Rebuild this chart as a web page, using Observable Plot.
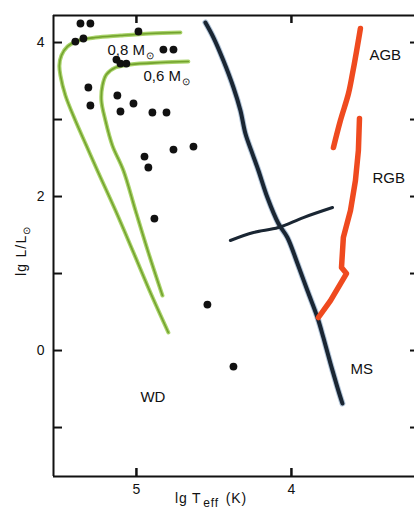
<!DOCTYPE html>
<html><head><meta charset="utf-8">
<script src="https://cdn.jsdelivr.net/npm/d3@7"></script>
<script src="https://cdn.jsdelivr.net/npm/@observablehq/plot@0.6"></script>
<style>html,body{margin:0;padding:0;background:#fff}#chart{width:414px;height:512px;overflow:hidden}</style>
</head><body><div id="chart"></div>
<script>
// [lg Teff, lg L/Lsun]
const track08 = [[4.716,4.130],[4.910,4.117],[5.103,4.091],[5.265,4.065],[5.374,4.026],[5.445,3.948],[5.484,3.831],[5.497,3.701],[5.490,3.571],[5.458,3.312],[5.394,2.987],[5.323,2.662],[5.252,2.338],[5.135,1.818],[5.019,1.273],[4.910,0.753],[4.794,0.234]];
const track06 = [[4.665,3.753],[4.845,3.740],[5.039,3.714],[5.135,3.675],[5.194,3.584],[5.219,3.442],[5.226,3.247],[5.200,2.987],[5.155,2.662],[5.084,2.338],[5.006,1.818],[4.923,1.273],[4.832,0.714]];
const mainSeq = [[4.555,4.260],[4.503,4.065],[4.439,3.766],[4.374,3.416],[4.329,3.117],[4.297,2.818],[4.252,2.558],[4.213,2.338],[4.155,1.987],[4.084,1.649],[4.026,1.468],[3.961,1.130],[3.897,0.779],[3.832,0.429],[3.794,0.169],[3.748,-0.169],[3.703,-0.481],[3.671,-0.688]];
const crossLine = [[4.394,1.429],[4.245,1.532],[4.084,1.597],[3.923,1.727],[3.735,1.857]];
const rgb = [[3.826,0.429],[3.748,0.649],[3.645,1.000],[3.677,1.078],[3.665,1.468],[3.619,1.818],[3.587,2.208],[3.568,2.597],[3.561,3.013]];
const agb = [[3.729,2.636],[3.684,2.987],[3.632,3.338],[3.606,3.597],[3.587,3.805],[3.568,4.026],[3.555,4.182]];
const stars = [[5.361,4.247],[5.297,4.247],[5.394,4.013],[5.342,4.052],[4.987,4.143],[4.826,3.909],[4.761,3.909],[5.129,3.779],[5.103,3.727],[5.065,3.727],[5.310,3.416],[5.123,3.312],[5.019,3.208],[5.297,3.182],[5.103,3.104],[4.897,3.091],[4.806,3.091],[4.761,2.610],[4.632,2.649],[4.948,2.519],[4.923,2.377],[4.884,1.714],[4.542,0.597],[4.374,-0.208]];
const regionLabels = [{t:"AGB",x:3.497,y:3.831},{t:"RGB",x:3.477,y:2.234},{t:"MS",x:3.619,y:-0.247},{t:"WD",x:4.974,y:-0.610}];
const massLabels = [{t:"0,8 M",x:5.187,y:3.896},{t:"0,6 M",x:4.955,y:3.558}];
const xTickLabels = [5,4];
const yTickLabels = [4,2,0];
const yTicksAll = [4,3,2,1,0,-1];
const xDomain = [5.535, 3.206];
const yDomain = [-1.636, 4.351];

const W = 414, H = 512, mL = 53, mR = 0, mT = 15, mB = 36;
const pw = W - mL - mR, ph = H - mT - mB;
const ink = "#111";
const font = "'Liberation Sans', Arial, Helvetica, sans-serif";

const chart = Plot.plot({
  width: W, height: H,
  marginLeft: mL, marginRight: mR, marginTop: mT, marginBottom: mB,
  x: {domain: xDomain},
  y: {domain: yDomain},
  style: {fontFamily: font, background: "#fff", color: ink},
  marks: [
    Plot.axisY(yTickLabels, {tickSize: 0, tickPadding: 9, fontSize: 14, label: null, tickFormat: d => String(d)}),
    Plot.axisX(xTickLabels, {tickSize: 0, tickPadding: 8, fontSize: 14, label: null, tickFormat: d => String(d)}),
    Plot.ruleX([xDomain[0]], {stroke: ink, strokeWidth: 2}),
    Plot.ruleY([yDomain[0], yDomain[1]], {stroke: ink, strokeWidth: 2}),
    Plot.tickY(yTicksAll, {y: d => d, stroke: ink, strokeWidth: 2, insetRight: pw - 9}),
    Plot.tickY(yTicksAll, {y: d => d, stroke: ink, strokeWidth: 2, insetLeft: pw - 4}),
    Plot.tickX(xTickLabels, {x: d => d, stroke: ink, strokeWidth: 2.5, insetTop: ph - 8}),
    Plot.tickX(xTickLabels, {x: d => d, stroke: ink, strokeWidth: 2.5, insetBottom: ph - 8}),
    Plot.line(track08, {x: d => d[0], y: d => d[1], stroke: "#a9d36a", strokeWidth: 4, curve: "catmull-rom"}),
    Plot.line(track08, {x: d => d[0], y: d => d[1], stroke: "#73a22e", strokeWidth: 1.6, curve: "catmull-rom"}),
    Plot.line(track06, {x: d => d[0], y: d => d[1], stroke: "#a9d36a", strokeWidth: 4, curve: "catmull-rom"}),
    Plot.line(track06, {x: d => d[0], y: d => d[1], stroke: "#73a22e", strokeWidth: 1.6, curve: "catmull-rom"}),
    Plot.line(mainSeq, {x: d => d[0], y: d => d[1], stroke: "#6a8fb8", strokeWidth: 6, strokeOpacity: 0.5, curve: "catmull-rom"}),
    Plot.line(mainSeq, {x: d => d[0], y: d => d[1], stroke: "#1a2633", strokeWidth: 4, curve: "catmull-rom"}),
    Plot.line(crossLine, {x: d => d[0], y: d => d[1], stroke: "#1a2633", strokeWidth: 3, curve: "catmull-rom"}),
    Plot.line(rgb, {x: d => d[0], y: d => d[1], stroke: "#ef4a1f", strokeWidth: 5.5, strokeLinecap: "round"}),
    Plot.line(agb, {x: d => d[0], y: d => d[1], stroke: "#ef4a1f", strokeWidth: 5.5, strokeLinecap: "round", curve: "catmull-rom"}),
    Plot.dot(stars, {x: d => d[0], y: d => d[1], r: 3.9, fill: ink}),
    Plot.text(regionLabels, {x: "x", y: "y", text: "t", textAnchor: "start", fontSize: 15, fill: ink}),
    Plot.text(massLabels, {x: "x", y: "y", text: "t", textAnchor: "start", fontSize: 15, fill: ink})
  ]
});
document.getElementById("chart").appendChild(chart);

const svg = d3.select(chart);
// subscripts for the mass labels
svg.selectAll("text").filter(function(){ return massLabels.some(m => m.t === this.textContent); })
  .each(function(){
    d3.select(this).append("tspan").attr("dx", 1).attr("dy", 4).attr("font-size", 10).text("⊙");
  });
// axis titles
const xt = svg.append("text").attr("x", 175).attr("y", 503).attr("text-anchor", "start")
  .attr("font-family", font).attr("font-size", 14).attr("fill", ink).attr("letter-spacing", 0.8);
xt.append("tspan").text("lg T");
xt.append("tspan").attr("dy", 4).attr("dx", 2).attr("font-size", 12).text("eff");
xt.append("tspan").attr("dy", -4).attr("dx", 7).text("(K)");
const yt = svg.append("text").attr("transform", "translate(26,276) rotate(-90)").attr("text-anchor", "start")
  .attr("font-family", font).attr("font-size", 14).attr("fill", ink).attr("letter-spacing", 1.2);
yt.append("tspan").text("lg L/L");
yt.append("tspan").attr("dy", 4).attr("font-size", 10).text("⊙");
</script>
</body></html>
